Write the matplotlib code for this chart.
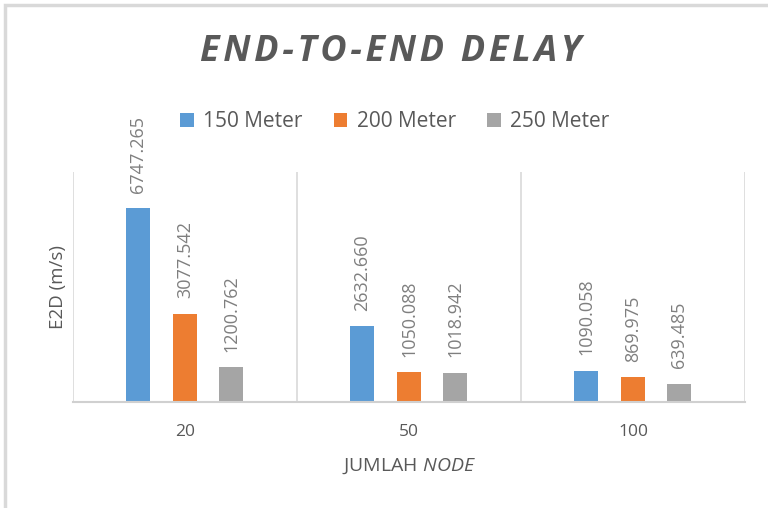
import numpy as np
import matplotlib
matplotlib.use("Agg")
import matplotlib.pyplot as plt
from matplotlib.patches import Rectangle

# data
categories = ["20", "50", "100"]
series_names = ["150 Meter", "200 Meter", "250 Meter"]
delay_150 = [6747.265, 2632.660, 1090.058]
delay_200 = [3077.542, 1050.088, 869.975]
delay_250 = [1200.762, 1018.942, 639.485]
colors = ["#5B9BD5", "#ED7D31", "#A5A5A5"]

txt = "#595959"
plt.rcParams["font.family"] = ["Open Sans", "DejaVu Sans"]
plt.rcParams["mathtext.fontset"] = "custom"
plt.rcParams["mathtext.rm"] = "Open Sans"
plt.rcParams["mathtext.it"] = "Open Sans:italic"

fig = plt.figure(figsize=(7.68, 5.08), dpi=100)
ax = fig.add_axes([0.095, 0.2087, 0.875, 0.4527])

# outer chart border (light gray)
fig.patches.append(Rectangle((5 / 768, -0.05), 1.0, 1 - 5 / 508 + 0.05,
                             transform=fig.transFigure, fill=False,
                             edgecolor="#D9D9D9", linewidth=2.5))

x = np.arange(len(categories))
step = 0.2075
width = 0.107
for i, (vals, name) in enumerate(zip([delay_150, delay_200, delay_250], series_names)):
    bars = ax.bar(x + (i - 1) * step, vals, width, color=colors[i], label=name)
    for b, v in zip(bars, vals):
        ax.annotate(f"{v:.3f}", (b.get_x() + b.get_width() / 2, v),
                    xytext=(0, 11), textcoords="offset points",
                    rotation=90, ha="center", va="bottom",
                    fontsize=13, color="#7F7F7F")

ax.set_xlim(-0.5, 2.5)
ax.set_ylim(0, 8000)
ax.set_yticks([])
ax.set_xticks(x)
ax.set_xticklabels(categories, fontsize=12.5, color=txt)
ax.tick_params(axis="x", length=0, pad=16)

# category separators
for sep in [-0.5, 0.5, 1.5, 2.5]:
    ax.axvline(sep, color="#D9D9D9", linewidth=1.2, zorder=0)

for s in ["top", "right", "left"]:
    ax.spines[s].set_visible(False)
ax.spines["bottom"].set_color("#D0D0D0")
ax.spines["bottom"].set_linewidth(1.5)

ax.set_ylabel("E2D (m/s)", fontsize=13.5, color=txt, labelpad=4)
ax.set_xlabel(r"JUMLAH $\mathit{NODE}$", fontsize=14, color=txt, labelpad=12)

title = "\u200a".join("END-TO-END DELAY")
fig.text(0.508, 0.897, title, ha="center", va="center",
         fontsize=26, fontweight="bold", fontstyle="italic", color=txt)

ax.legend(loc="center", bbox_to_anchor=(0.479, 1.22), ncol=3, frameon=False,
          fontsize=15, labelcolor=txt, handlelength=0.65, handleheight=0.65,
          handletextpad=0.45, columnspacing=1.5)

fig.savefig("out.png", dpi=100)
